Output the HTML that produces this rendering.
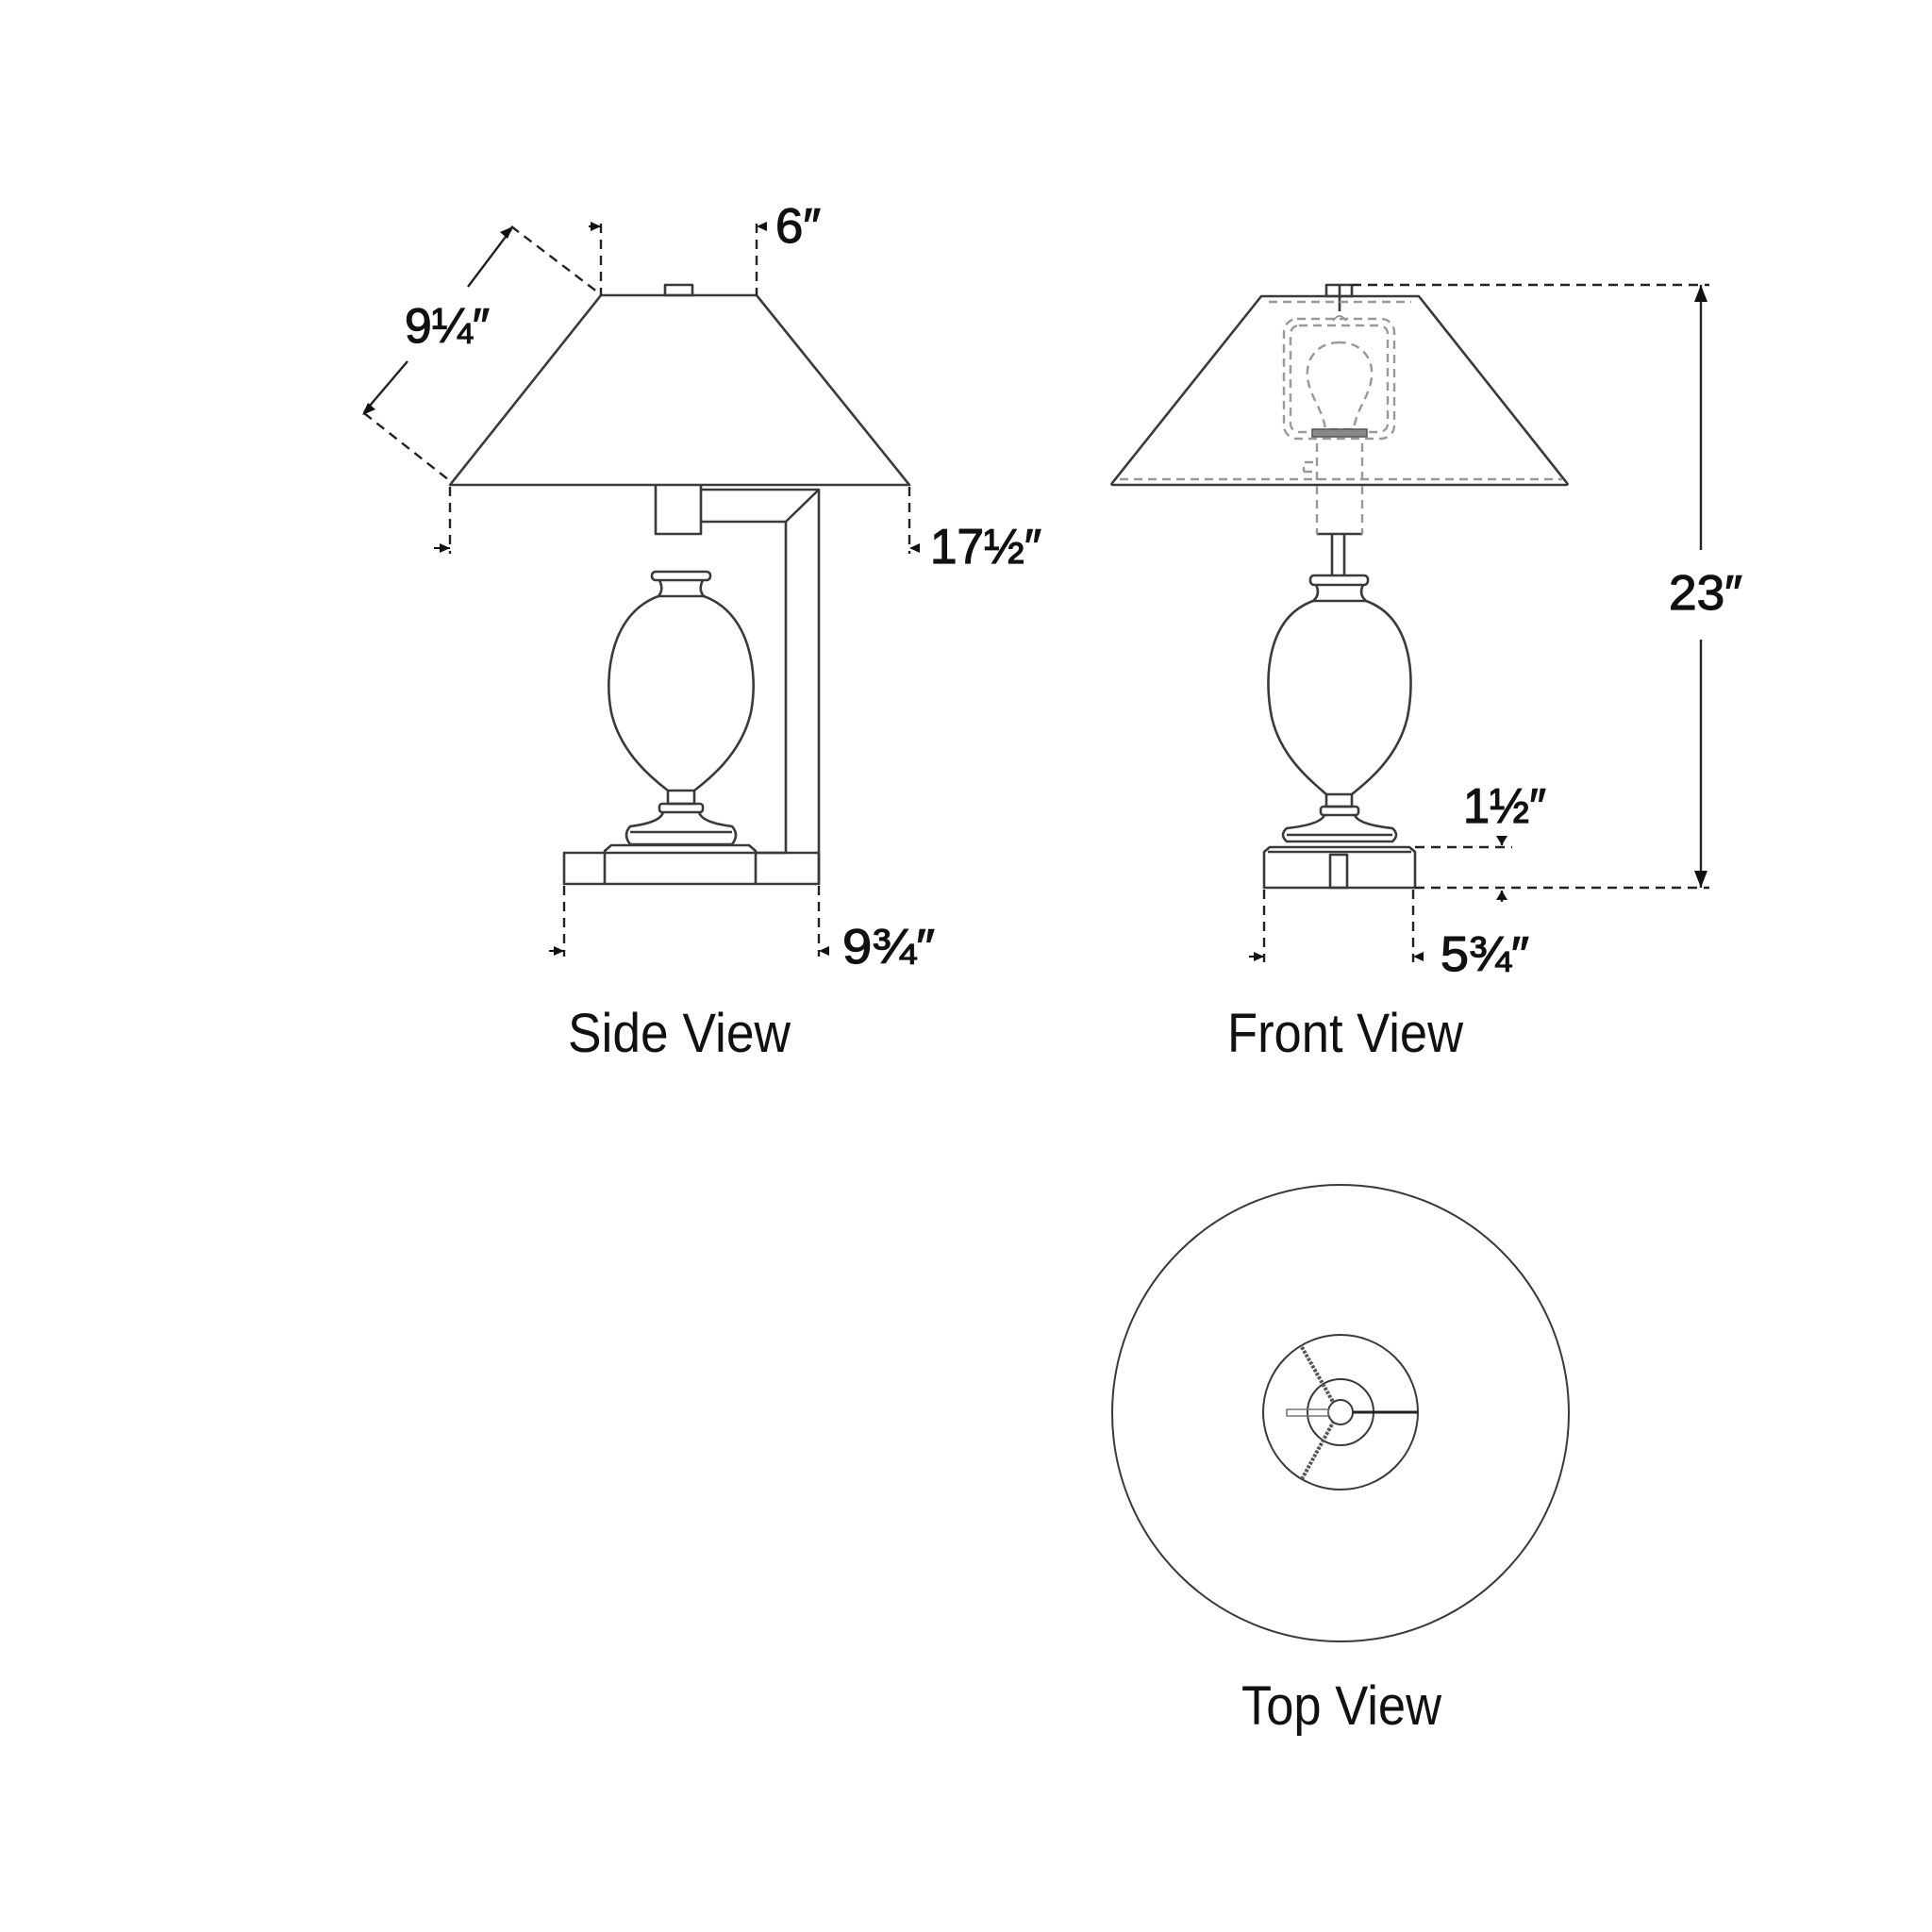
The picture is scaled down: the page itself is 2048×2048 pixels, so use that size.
<!DOCTYPE html>
<html><head><meta charset="utf-8"><style>
html,body{margin:0;padding:0;background:#fff;}
svg{display:block;}
text{font-family:"Liberation Sans",sans-serif;fill:#111;}
</style></head><body>
<svg width="2048" height="2048" viewBox="0 0 2048 2048" xmlns="http://www.w3.org/2000/svg">
<rect width="2048" height="2048" fill="#fff"/>
<g fill="none" stroke="#3a3a3a" stroke-width="2.6" stroke-linejoin="round">
<!-- ===== SIDE VIEW ===== -->
<path d="M637,313 L802,313 L964,514 L477,514 Z"/>
<rect x="705" y="302" width="29" height="11"/>
<path d="M695,514 L695,566 L743,566 L743,514"/>
<path d="M743,519 L868,519 L868,937"/>
<path d="M743,553 L833,553 L868,519"/>
<path d="M833,553 L833,904 L801,904"/>
<rect x="598" y="904" width="270" height="33"/>
<path d="M641,937 L641,902 L648,896 L794,896 L801,902 L801,937"/>
<rect x="691" y="606" width="62" height="9" rx="4"/>
<path d="M699,615 Q704,625 698,632 L746,632 Q740,625 745,615"/>
<path d="M698,632 C648,650 640,715 648,755 C658,800 695,828 708,838 L736,838 C749,828 786,800 796,755 C804,715 796,650 746,632"/>
<path d="M708,838 L708,852 L736,852 L736,838"/>
<rect x="699" y="852" width="46" height="9" rx="3"/>
<path d="M703,861 Q700,872 668,876 Q660,885 668,895 L776,895 Q784,885 776,876 Q744,872 741,861"/>
<path d="M668,882 L776,882"/>

<!-- ===== FRONT VIEW ===== -->
<path d="M1337,314 L1504,314 L1661,512 Q1663,514 1659,514 L1181,514 Q1177,514 1179,512 Z"/>
<rect x="1406" y="302" width="27" height="12"/>
<path d="M1420,302 L1420,330"/>
<path d="M1396,566 L1444,566"/>
<path d="M1412,566 L1412,610 M1425,566 L1425,610"/>
<rect x="1389" y="610" width="61" height="10" rx="4"/>
<path d="M1395,620 Q1400,630 1392,637 L1448,637 Q1440,630 1445,620"/>
<path d="M1392,637 C1342,655 1340,720 1348,760 C1358,805 1395,832 1406,842 L1433,842 C1445,832 1482,805 1492,760 C1500,720 1498,655 1448,637"/>
<path d="M1406,842 L1406,855 L1433,855 L1433,842"/>
<rect x="1400" y="855" width="40" height="9" rx="3"/>
<path d="M1404,864 Q1400,874 1364,878 Q1356,885 1364,892 L1476,892 Q1484,885 1476,878 Q1440,874 1436,864"/>
<path d="M1364,885 L1476,885"/>
<path d="M1340,941 L1340,903 L1346,898 L1494,898 L1500,903 L1500,941 Z"/>
<path d="M1344,903 L1496,903"/>
<rect x="1410" y="906" width="18" height="35"/>

<!-- ===== TOP VIEW ===== -->
<circle cx="1421" cy="1498" r="242" stroke-width="2"/>
<circle cx="1421" cy="1497" r="82" stroke-width="2"/>
<circle cx="1421" cy="1497" r="35" stroke-width="2"/>
<circle cx="1421" cy="1497" r="13" stroke-width="2"/>
<path d="M1380,1428 L1413,1486 M1380,1568 L1413,1508" stroke="#555" stroke-width="4" stroke-dasharray="3 1.5"/>
<path d="M1434,1497 L1503,1497" stroke="#222" stroke-width="3"/>
<rect x="1364" y="1494" width="44" height="7" stroke-width="1.6" stroke="#777"/>
</g>

<g fill="none" stroke="#999" stroke-width="2.4" stroke-dasharray="9 6">
<path d="M1187,508 L1656,508"/>
<path d="M1345,320 L1496,320"/>
<rect x="1361" y="338" width="117" height="127" rx="14"/>
<rect x="1368" y="345" width="103" height="113" rx="9"/>
<path d="M1420,363 C1395,363 1384,382 1386,400 C1388,420 1402,433 1405,455 L1435,455 C1438,433 1452,420 1454,400 C1456,382 1445,363 1420,363 Z"/>
<path d="M1396,470 L1396,566 M1444,470 L1444,566"/>
<path d="M1392,490 L1382,490 L1382,500 M1382,500 L1392,500"/>
</g>
<rect x="1391" y="455" width="58" height="8" fill="#888" stroke="#555" stroke-width="1.5"/>
<path d="M1413,340 Q1420,330 1427,340" fill="none" stroke="#999" stroke-width="2"/>

<!-- ===== DIMENSION LINES ===== -->
<g fill="none" stroke="#222" stroke-width="2.4" stroke-dasharray="10 7">
<path d="M637,237 L637,313 M802,237 L802,313"/>
<path d="M542,240 L634,310 M386,438 L476,509"/>
<path d="M477,516 L477,587 M964,516 L964,587"/>
<path d="M598,939 L598,1014 M868,939 L868,1014"/>
<path d="M1433,302 L1812,302 M1500,941 L1812,941"/>
<path d="M1500,898 L1603,898"/>
<path d="M1340,943 L1340,1020 M1498,943 L1498,1020"/>
</g>
<g fill="none" stroke="#222" stroke-width="2.4">
<path d="M542,243 L496,304 M432,383 L386,437"/>
<path d="M1803,302 L1803,583 M1803,678 L1803,941"/>
<path d="M1592,888 L1592,896 M1592,944 L1592,956"/>
</g>
<g fill="#111" stroke="none">
<path d="M637,240 L626,235 L626,245 Z"/><path d="M624,240 L637,240" stroke="#111" stroke-width="2"/>
<path d="M802,240 L813,235 L813,245 Z"/>
<path d="M544,240 L530,246 L538,253 Z"/>
<path d="M384,440 L398,434 L390,427 Z"/>
<path d="M477,581 L466,576 L466,586 Z"/><path d="M460,581 L477,581" stroke="#111" stroke-width="2"/>
<path d="M964,581 L975,576 L975,586 Z"/>
<path d="M598,1008 L587,1003 L587,1013 Z"/><path d="M582,1008 L598,1008" stroke="#111" stroke-width="2"/>
<path d="M868,1008 L879,1003 L879,1013 Z"/>
<path d="M1803,302 L1796,320 L1810,320 Z"/>
<path d="M1803,941 L1796,923 L1810,923 Z"/>
<path d="M1592,896 L1586,886 L1598,886 Z"/>
<path d="M1592,944 L1586,954 L1598,954 Z"/>
<path d="M1340,1014 L1329,1009 L1329,1019 Z"/><path d="M1324,1014 L1340,1014" stroke="#111" stroke-width="2"/>
<path d="M1498,1014 L1509,1009 L1509,1019 Z"/>
</g>

<!-- ===== LABELS ===== -->
<g font-size="52" stroke="#111" stroke-width="1.2">
<text x="822" y="257" textLength="48" lengthAdjust="spacingAndGlyphs">6″</text>
<text x="429" y="363" textLength="90" lengthAdjust="spacingAndGlyphs">9¼″</text>
<text x="986" y="597" textLength="118" lengthAdjust="spacingAndGlyphs">17½″</text>
<text x="893" y="1021" textLength="98" lengthAdjust="spacingAndGlyphs">9¾″</text>
<text x="1769" y="646" textLength="78" lengthAdjust="spacingAndGlyphs">23″</text>
<text x="1551" y="872" textLength="88" lengthAdjust="spacingAndGlyphs">1½″</text>
<text x="1527" y="1029" textLength="94" lengthAdjust="spacingAndGlyphs">5¾″</text>
</g>
<g font-size="58">
<text x="602" y="1115" textLength="236" lengthAdjust="spacingAndGlyphs">Side View</text>
<text x="1301" y="1115" textLength="250" lengthAdjust="spacingAndGlyphs">Front View</text>
<text x="1316" y="1828" textLength="212" lengthAdjust="spacingAndGlyphs">Top View</text>
</g>
</svg>
</body></html>
